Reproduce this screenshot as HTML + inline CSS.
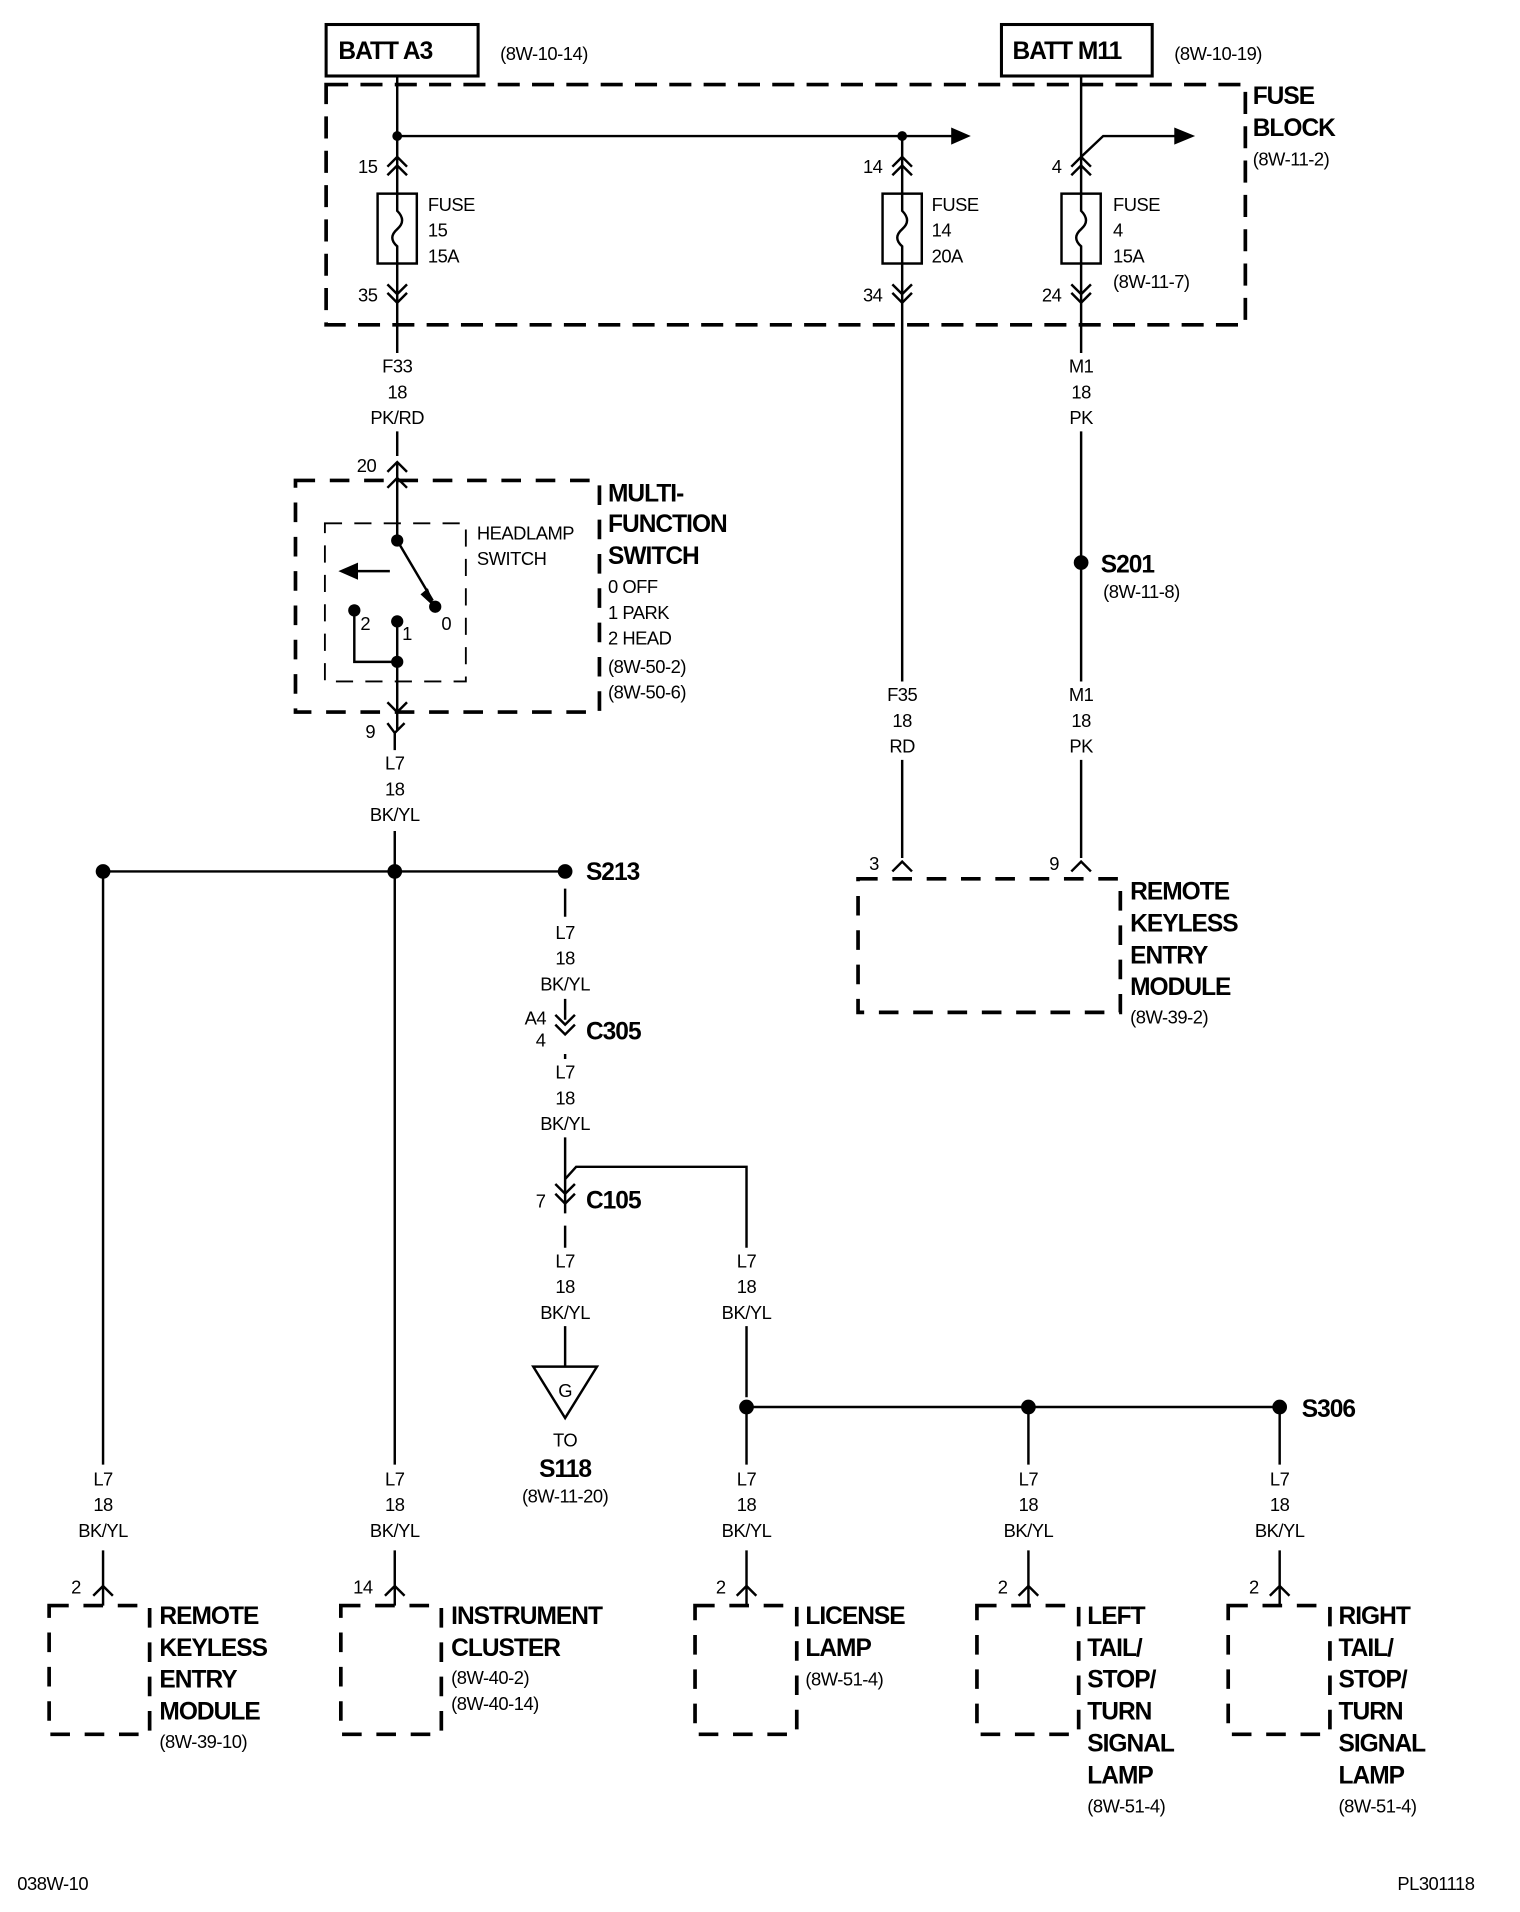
<!DOCTYPE html>
<html><head><meta charset="utf-8"><style>
html,body{margin:0;padding:0;background:#fff}
svg{display:block}
text{font-family:"Liberation Sans",Arial,sans-serif;fill:#000}
.s{font-size:15px;letter-spacing:-0.4px}
.b{font-size:20px;font-weight:bold;letter-spacing:-0.8px}
.c{text-anchor:middle}
</style></head><body>
<svg width="1520" height="1912" viewBox="0 0 1240 1560" xmlns="http://www.w3.org/2000/svg">
<g fill="none" stroke="#000" stroke-width="2">
<rect x="266" y="20" width="124" height="42" stroke-width="2.5"/>
<rect x="817" y="20" width="123" height="42" stroke-width="2.5"/>
<rect x="266" y="69" width="750" height="196" stroke-width="3" stroke-dasharray="18,10"/>
<path d="M324 62V158M324 215V288M324 352V372"/>
<path d="M324 111H780"/>
<path d="M736 111V158M736 215V556M736 620V700"/>
<path d="M882 62V128L900 111H962M882 128V158M882 215V288M882 352V556M882 620V700"/>
<rect x="308" y="158" width="32" height="57"/>
<rect x="720" y="158" width="32" height="57"/>
<rect x="866" y="158" width="32" height="57"/>
<path d="M324 158V172Q332 180 324 187Q316 194 324 201V215"/>
<path d="M736 158V172Q744 180 736 187Q728 194 736 201V215"/>
<path d="M882 158V172Q890 180 882 187Q874 194 882 201V215"/>
<path d="M316 136L324 128L332 136M316 143L324 135L332 143"/>
<path d="M728 136L736 128L744 136M728 143L736 135L744 143"/>
<path d="M874 136L882 128L890 136M874 143L882 135L890 143"/>
<path d="M316 232L324 240L332 232M316 239L324 247L332 239"/>
<path d="M728 232L736 240L744 232M728 239L736 247L744 239"/>
<path d="M874 232L882 240L890 232M874 239L882 247L890 239"/>
<rect x="241" y="392" width="248" height="189" stroke-width="3" stroke-dasharray="16,12"/>
<rect x="265" y="427" width="115" height="129" stroke-width="1.5" stroke-dasharray="14,10"/>
<path d="M316 385L324 377L332 385M316 398L324 390L332 398"/>
<path d="M324 377V441L353 490"/>
<path d="M318 466H290"/>
<path d="M289 498V540H324M324 507V596"/>
<path d="M316 573L324 581L332 573"/>
<path d="M316 590L322 598L330 590M322 598V612"/>
<path d="M322 678V1195M84 711H461M84 711V1195"/>
<path d="M461 725V748M461 815V832M461 860V864M461 928V990M461 1000V1018M461 1082V1115M461 962L470 952H609V1018M609 1082V1140"/>
<path d="M453 828L461 836L469 828M453 836L461 844L469 836"/>
<path d="M453 966L461 974L469 966M453 974L461 982L469 974"/>
<path d="M435 1115H487L461 1157Z"/>
<path d="M609 1148H1044M609 1148V1195M839 1148V1195M1044 1148V1195"/>
<path d="M728 711L736 703L744 711M874 711L882 703L890 711"/>
<rect x="700" y="717" width="214" height="109" stroke-width="3" stroke-dasharray="16,12"/>
<path d="M76 1302L84 1294L92 1302M314 1302L322 1294L330 1302M601 1302L609 1294L617 1302M831 1302L839 1294L847 1302M1036 1302L1044 1294L1052 1302"/>
<path d="M84 1265V1310M322 1265V1310M609 1265V1310M839 1265V1310M1044 1265V1310"/>
<g stroke-width="3" stroke-dasharray="16,12">
<rect x="40" y="1310" width="82" height="105"/>
<rect x="278" y="1310" width="82" height="105"/>
<rect x="567" y="1310" width="83" height="105"/>
<rect x="797" y="1310" width="83" height="105"/>
<rect x="1002" y="1310" width="83" height="105"/>
</g>
</g>
<g fill="#000">
<path d="M776 104L792 111L776 118Z"/>
<path d="M958 104L975 111L958 118Z"/>
<path d="M276 466L292 459L292 473Z"/>
<path d="M343 485L355 496L349 480Z"/>
<circle cx="324" cy="111" r="4"/><circle cx="736" cy="111" r="4"/>
<circle cx="324" cy="441" r="5"/><circle cx="355" cy="495" r="5"/><circle cx="289" cy="498" r="5"/><circle cx="324" cy="507" r="5"/><circle cx="324" cy="540" r="5"/>
<circle cx="84" cy="711" r="6"/><circle cx="322" cy="711" r="6"/><circle cx="461" cy="711" r="6"/>
<circle cx="882" cy="459" r="6"/>
<circle cx="609" cy="1148" r="6"/><circle cx="839" cy="1148" r="6"/><circle cx="1044" cy="1148" r="6"/>
</g>
<text class="b" x="276" y="48">BATT A3</text>
<text class="s" x="408" y="49">(8W-10-14)</text>
<text class="b" x="826" y="48">BATT M11</text>
<text class="s" x="958" y="49">(8W-10-19)</text>
<text class="b" x="1022" y="85">FUSE</text>
<text class="b" x="1022" y="111">BLOCK</text>
<text class="s" x="1022" y="135">(8W-11-2)</text>
<text class="s" x="292" y="141">15</text><text class="s" x="292" y="246">35</text>
<text class="s" x="704" y="141">14</text><text class="s" x="704" y="246">34</text>
<text class="s" x="858" y="141">4</text><text class="s" x="850" y="246">24</text>
<text class="s" x="349" y="172">FUSE</text><text class="s" x="349" y="193">15</text><text class="s" x="349" y="214">15A</text>
<text class="s" x="760" y="172">FUSE</text><text class="s" x="760" y="193">14</text><text class="s" x="760" y="214">20A</text>
<text class="s" x="908" y="172">FUSE</text><text class="s" x="908" y="193">4</text><text class="s" x="908" y="214">15A</text><text class="s" x="908" y="235">(8W-11-7)</text>
<text class="s c" x="324" y="304">F33</text><text class="s c" x="324" y="325">18</text><text class="s c" x="324" y="346">PK/RD</text>
<text class="s c" x="882" y="304">M1</text><text class="s c" x="882" y="325">18</text><text class="s c" x="882" y="346">PK</text>
<text class="s c" x="736" y="572">F35</text><text class="s c" x="736" y="593">18</text><text class="s c" x="736" y="614">RD</text>
<text class="s c" x="882" y="572">M1</text><text class="s c" x="882" y="593">18</text><text class="s c" x="882" y="614">PK</text>
<text class="s c" x="322" y="628">L7</text><text class="s c" x="322" y="649">18</text><text class="s c" x="322" y="670">BK/YL</text>
<text class="s c" x="461" y="766">L7</text><text class="s c" x="461" y="787">18</text><text class="s c" x="461" y="808">BK/YL</text>
<text class="s c" x="461" y="880">L7</text><text class="s c" x="461" y="901">18</text><text class="s c" x="461" y="922">BK/YL</text>
<text class="s c" x="461" y="1034">L7</text><text class="s c" x="461" y="1055">18</text><text class="s c" x="461" y="1076">BK/YL</text>
<text class="s c" x="609" y="1034">L7</text><text class="s c" x="609" y="1055">18</text><text class="s c" x="609" y="1076">BK/YL</text>
<text class="s c" x="84" y="1212">L7</text><text class="s c" x="84" y="1233">18</text><text class="s c" x="84" y="1254">BK/YL</text>
<text class="s c" x="322" y="1212">L7</text><text class="s c" x="322" y="1233">18</text><text class="s c" x="322" y="1254">BK/YL</text>
<text class="s c" x="609" y="1212">L7</text><text class="s c" x="609" y="1233">18</text><text class="s c" x="609" y="1254">BK/YL</text>
<text class="s c" x="839" y="1212">L7</text><text class="s c" x="839" y="1233">18</text><text class="s c" x="839" y="1254">BK/YL</text>
<text class="s c" x="1044" y="1212">L7</text><text class="s c" x="1044" y="1233">18</text><text class="s c" x="1044" y="1254">BK/YL</text>
<text class="s" x="291" y="385">20</text>
<text class="s" x="298" y="602">9</text>
<text class="s" x="294" y="514">2</text><text class="s" x="328" y="522">1</text><text class="s" x="360" y="514">0</text>
<text class="s" x="389" y="440">HEADLAMP</text><text class="s" x="389" y="461">SWITCH</text>
<text class="b" x="496" y="409">MULTI-</text><text class="b" x="496" y="434">FUNCTION</text><text class="b" x="496" y="460">SWITCH</text>
<text class="s" x="496" y="484">0 OFF</text><text class="s" x="496" y="505">1 PARK</text><text class="s" x="496" y="526">2 HEAD</text>
<text class="s" x="496" y="549">(8W-50-2)</text><text class="s" x="496" y="570">(8W-50-6)</text>
<text class="b" x="478" y="718">S213</text>
<text class="s" x="428" y="836">A4</text><text class="s" x="437" y="854">4</text>
<text class="b" x="478" y="848">C305</text>
<text class="s" x="437" y="985">7</text>
<text class="b" x="478" y="986">C105</text>
<text class="s c" x="461" y="1140">G</text>
<text class="s c" x="461" y="1180">TO</text>
<text class="b c" x="461" y="1205">S118</text>
<text class="s c" x="461" y="1226">(8W-11-20)</text>
<text class="b" x="898" y="467">S201</text>
<text class="s" x="900" y="488">(8W-11-8)</text>
<text class="s" x="709" y="710">3</text><text class="s" x="856" y="710">9</text>
<text class="b" x="922" y="734">REMOTE</text><text class="b" x="922" y="760">KEYLESS</text><text class="b" x="922" y="786">ENTRY</text><text class="b" x="922" y="812">MODULE</text>
<text class="s" x="922" y="835">(8W-39-2)</text>
<text class="b" x="1062" y="1156">S306</text>
<text class="s" x="58" y="1300">2</text><text class="s" x="288" y="1300">14</text><text class="s" x="584" y="1300">2</text><text class="s" x="814" y="1300">2</text><text class="s" x="1019" y="1300">2</text>
<text class="b" x="130" y="1325">REMOTE</text><text class="b" x="130" y="1351">KEYLESS</text><text class="b" x="130" y="1377">ENTRY</text><text class="b" x="130" y="1403">MODULE</text><text class="s" x="130" y="1426">(8W-39-10)</text>
<text class="b" x="368" y="1325">INSTRUMENT</text><text class="b" x="368" y="1351">CLUSTER</text><text class="s" x="368" y="1374">(8W-40-2)</text><text class="s" x="368" y="1395">(8W-40-14)</text>
<text class="b" x="657" y="1325">LICENSE</text><text class="b" x="657" y="1351">LAMP</text><text class="s" x="657" y="1375">(8W-51-4)</text>
<text class="b" x="887" y="1325">LEFT</text><text class="b" x="887" y="1351">TAIL/</text><text class="b" x="887" y="1377">STOP/</text><text class="b" x="887" y="1403">TURN</text><text class="b" x="887" y="1429">SIGNAL</text><text class="b" x="887" y="1455">LAMP</text><text class="s" x="887" y="1479">(8W-51-4)</text>
<text class="b" x="1092" y="1325">RIGHT</text><text class="b" x="1092" y="1351">TAIL/</text><text class="b" x="1092" y="1377">STOP/</text><text class="b" x="1092" y="1403">TURN</text><text class="b" x="1092" y="1429">SIGNAL</text><text class="b" x="1092" y="1455">LAMP</text><text class="s" x="1092" y="1479">(8W-51-4)</text>
<text class="s" x="14" y="1542">038W-10</text>
<text class="s" x="1140" y="1542">PL301118</text>
</svg>
</body></html>
